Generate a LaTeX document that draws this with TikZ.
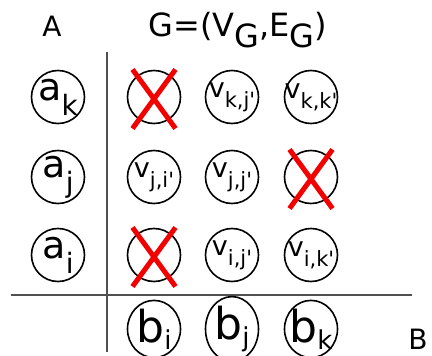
\documentclass[tikz,border=0pt]{standalone}
\usepackage{fontspec}
\setmainfont{DejaVu Sans}
\usetikzlibrary{shapes.misc,shapes.geometric}
\definecolor{gridgray}{HTML}{505050}
\definecolor{xred}{HTML}{F20000}
% base letter with a lowered index, zero width so the circle keeps its size
\newcommand{\sublab}[5]{\makebox[0pt]{\fontsize{#1}{#1}\selectfont #4\raisebox{-#3}{\fontsize{#2}{#2}\selectfont #5}}}
\newcommand{\pr}{\textquotesingle}
\tikzset{
  vtx/.style={circle, draw=black, line width=1.6pt, minimum size=53pt, inner sep=0pt},
  bvtx/.style={ellipse, draw=black, line width=1.6pt, minimum width=53pt, minimum height=47pt, inner sep=0pt},
  xmark/.style={cross out, draw=xred, line width=5pt, minimum width=38pt, minimum height=54pt, inner sep=0pt},
  axis/.style={draw=gridgray, line width=1.1pt},
  ttl/.style={font=\fontsize{28}{28}\selectfont, inner sep=0pt},
}
\begin{document}
\begin{tikzpicture}[x=1pt, y=-1pt]
  \useasboundingbox (0,0) rectangle (432,356);
  % set labels
  \node[ttl, anchor=base] (setA) at (52,37) {A};
  \node[ttl, anchor=base, font=\fontsize{32}{32}\selectfont] (title) at (238,36) {G=(V\raisebox{-11pt}{G},E\raisebox{-11pt}{G})};
  \node[ttl, anchor=base] (setB) at (418,349) {B};
  % axes
  \coordinate (vtop) at (107,52);
  \coordinate (vbot) at (107,352);
  \coordinate (hleft) at (11,295);
  \coordinate (hright) at (412,295);
  \draw[axis] (vtop) -- (vbot);
  \draw[axis] (hleft) -- (hright);
  % A side
  \node[vtx] (ak) at (58,97) {\sublab{38}{28}{15pt}{a}{k}};
  \node[vtx] (aj) at (58,177) {\sublab{38}{28}{15pt}{a}{j}};
  \node[vtx] (ai) at (58,255) {\sublab{38}{28}{15pt}{a}{i}};
  % row k
  \node[vtx] (vki) at (154,97) {};
  \node[vtx] (vkj) at (232,97) {\sublab{27}{21}{10pt}{v}{k,j\pr}};
  \node[vtx] (vkk) at (311,97) {\sublab{27}{21}{10pt}{v}{k,k\pr}};
  % row j
  \node[vtx] (vji) at (154,177) {\sublab{27}{21}{10pt}{v}{j,i\pr}};
  \node[vtx] (vjj) at (232,177) {\sublab{27}{21}{10pt}{v}{j,j\pr}};
  \node[vtx] (vjk) at (311,177) {};
  % row i
  \node[vtx] (vii) at (154,255) {};
  \node[vtx] (vij) at (232,255) {\sublab{27}{21}{10pt}{v}{i,j\pr}};
  \node[vtx] (vik) at (311,255) {\sublab{27}{21}{10pt}{v}{i,k\pr}};
  % removed pairs
  \node[xmark] (xki) at (154,99) {};
  \node[xmark] (xjk) at (311,179) {};
  \node[xmark] (xii) at (154,257) {};
  % B side
  \node[bvtx] (bi) at (154,329) {\sublab{44}{26}{7pt}{b}{i}};
  \node[bvtx] (bj) at (232,329) {\sublab{44}{26}{7pt}{b}{j}};
  \node[bvtx] (bk) at (311,329) {\sublab{44}{26}{7pt}{b}{k}};
\end{tikzpicture}
\end{document}
